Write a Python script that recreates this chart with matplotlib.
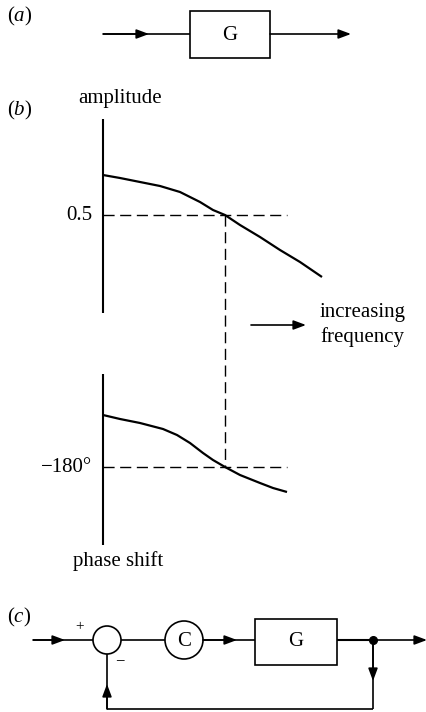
import matplotlib
matplotlib.use("Agg")
import matplotlib.pyplot as plt
from matplotlib.patches import Rectangle, Circle

plt.rcParams['font.family'] = ['Liberation Serif', 'DejaVu Serif']
plt.rcParams['mathtext.fontset'] = 'custom'
plt.rcParams['mathtext.it'] = 'Liberation Serif:italic'
plt.rcParams['mathtext.rm'] = 'Liberation Serif'

# ---- data (in pixel-like diagram units) ----
amp_x = [103, 120, 140, 160, 180, 200, 213, 225, 240, 260, 280, 300, 322]
amp_y = [175, 178, 182, 186, 192, 202, 210, 215, 225, 237, 250, 262, 277]
phase_x = [103, 120, 140, 163, 177, 190, 203, 213, 225, 240, 260, 273, 287]
phase_y = [415, 419, 423, 429, 435, 443, 453, 460, 467, 475, 483, 488, 492]
amp_level = 215        # 0.5 line
phase_level = 467      # -180 deg line
cross_x = 225          # frequency where phase = -180
amp_tick = '0.5'
phase_tick = '\u2212180\u00b0'

W, H = 427, 712
fig = plt.figure(figsize=(W / 100, H / 100), dpi=100)
ax = fig.add_axes([0, 0, 1, 1])
ax.set_xlim(0, W)
ax.set_ylim(H, 0)
ax.axis('off')

LW = 1.2
FS = 15
K = 'black'

def arrow(x0, y0, x1, y1):
    ax.annotate('', xy=(x1, y1), xytext=(x0, y0),
                arrowprops=dict(arrowstyle='-|>,head_length=0.75,head_width=0.28',
                                color=K, lw=LW, shrinkA=0, shrinkB=0,
                                mutation_scale=10))

def line(xs, ys, **kw):
    ax.plot(xs, ys, color=K, lw=kw.pop('lw', LW), solid_capstyle='butt',
            solid_joinstyle='round', **kw)

dash = dict(linestyle=(0, (8, 4)), lw=1.0)

# ---- (a) ----
ax.text(7, 16, r'($a$)', fontsize=FS, ha='left', va='center')
line([103, 190], [34, 34])
arrow(103, 34, 149, 34)
ax.add_patch(Rectangle((190, 11), 80, 47, fill=False, ec=K, lw=LW))
ax.text(230, 35, 'G', fontsize=FS, ha='center', va='center')
arrow(270, 34, 351, 34)

# ---- (b) ----
ax.text(7, 110, r'($b$)', fontsize=FS, ha='left', va='center')
ax.text(120, 99, 'amplitude', fontsize=FS, ha='center', va='center')
line([103, 103], [119, 313], lw=1.5)
line(amp_x, amp_y, lw=1.6)
line([103, 287], [amp_level, amp_level], **dash)
ax.text(92, amp_level, amp_tick, fontsize=FS, ha='right', va='center')
line([cross_x, cross_x], [amp_level, phase_level], **dash)

arrow(251, 325, 306, 325)
ax.text(320, 312, 'increasing', fontsize=FS, ha='left', va='center')
ax.text(320, 337, 'frequency', fontsize=FS, ha='left', va='center')

line([103, 103], [374, 545], lw=1.5)
line(phase_x, phase_y, lw=1.6)
line([103, 287], [phase_level, phase_level], **dash)
ax.text(92, phase_level, phase_tick, fontsize=FS, ha='right', va='center')
ax.text(118, 561, 'phase shift', fontsize=FS, ha='center', va='center')

# ---- (c) ----
ax.text(7, 617, r'($c$)', fontsize=FS, ha='left', va='center')
yc = 640
line([33, 93], [yc, yc])
arrow(33, yc, 65, yc)
ax.text(80, 627, '+', fontsize=11, ha='center', va='center')
ax.add_patch(Circle((107, yc), 14, fill=False, ec=K, lw=LW))
ax.text(120, 661, '\u2212', fontsize=12, ha='center', va='center')
line([121, 165], [yc, yc])
ax.add_patch(Circle((184, yc), 19, fill=False, ec=K, lw=LW))
ax.text(184, 641, 'C', fontsize=FS, ha='center', va='center')
line([203, 255], [yc, yc])
arrow(203, yc, 237, yc)
ax.add_patch(Rectangle((255, 619), 82, 46, fill=False, ec=K, lw=LW))
ax.text(296, 641, 'G', fontsize=FS, ha='center', va='center')
line([337, 373], [yc, yc], lw=1.5)
arrow(373, yc, 427, yc)
ax.plot([373], [yc], 'o', color=K, ms=5.5)
line([373, 373], [yc, 709])
arrow(373, yc, 373, 681)
line([373, 107], [709, 709])
line([107, 107], [709, 654])
arrow(107, 709, 107, 684)

fig.savefig('out.png', dpi=100)
